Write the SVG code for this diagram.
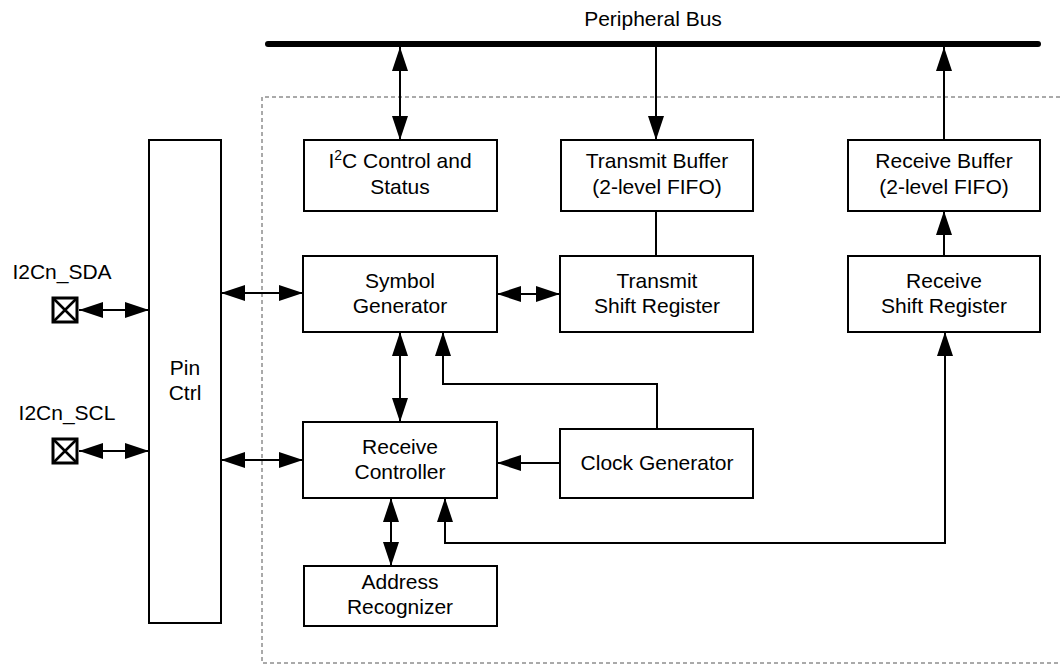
<svg xmlns="http://www.w3.org/2000/svg" width="1060" height="665" viewBox="0 0 1060 665">
<style>
.box{fill:#fff;stroke:#000;stroke-width:2}
.t{font-family:"Liberation Sans",Arial,sans-serif;font-size:21px;fill:#000;text-anchor:middle}
.c{fill:none;stroke:#000;stroke-width:2}
.pin{fill:#fff;stroke:#000;stroke-width:3}
</style>
<defs>
<marker id="ah" markerUnits="userSpaceOnUse" markerWidth="24" markerHeight="16" refX="24" refY="8" orient="auto-start-reverse" viewBox="0 0 24 16">
<path d="M0,0 L24,8 L0,16 z" fill="#000"/>
</marker>
</defs>
<rect width="1060" height="665" fill="#fff"/>
<path id="boundary" d="M1060,97 H262 V663 H1060" fill="none" stroke="#555" stroke-width="1" stroke-dasharray="4,3"/>
<g id="bus">
<line x1="268" y1="44" x2="1038" y2="44" stroke="#000" stroke-width="6" stroke-linecap="round"/>
<text class="t" x="653" y="26">Peripheral Bus</text>
</g>
<g id="connectors">
<line class="c" x1="400" y1="47" x2="400" y2="140" marker-start="url(#ah)" marker-end="url(#ah)"/>
<line class="c" x1="656" y1="46" x2="656" y2="140" marker-end="url(#ah)"/>
<line class="c" x1="944" y1="140" x2="944" y2="47" marker-end="url(#ah)"/>
<line class="c" x1="944" y1="256" x2="944" y2="211" marker-end="url(#ah)"/>
<line class="c" x1="656" y1="211" x2="656" y2="256"/>
<line class="c" x1="497" y1="294" x2="560" y2="294" marker-start="url(#ah)" marker-end="url(#ah)"/>
<line class="c" x1="221" y1="293" x2="303" y2="293" marker-start="url(#ah)" marker-end="url(#ah)"/>
<line class="c" x1="221" y1="460" x2="303" y2="460" marker-start="url(#ah)" marker-end="url(#ah)"/>
<line class="c" x1="79" y1="310" x2="149" y2="310" marker-start="url(#ah)" marker-end="url(#ah)"/>
<line class="c" x1="79" y1="451" x2="149" y2="451" marker-start="url(#ah)" marker-end="url(#ah)"/>
<line class="c" x1="400" y1="332" x2="400" y2="422" marker-start="url(#ah)" marker-end="url(#ah)"/>
<path class="c" d="M657,429 V384 H443 V332" marker-end="url(#ah)"/>
<line class="c" x1="560" y1="463" x2="497" y2="463" marker-end="url(#ah)"/>
<line class="c" x1="391" y1="498" x2="391" y2="566" marker-start="url(#ah)" marker-end="url(#ah)"/>
<path class="c" d="M445,498 V543 H945 V332" marker-start="url(#ah)" marker-end="url(#ah)"/>
</g>
<g id="i2c-control">
<rect class="box" x="304" y="140" width="193" height="71"/>
<text class="t" x="400" y="168">I<tspan font-size="14" dy="-8">2</tspan><tspan dy="8">C Control and</tspan></text>
<text class="t" x="400" y="194">Status</text>
</g>
<g id="transmit-buffer">
<rect class="box" x="561" y="140" width="192" height="71"/>
<text class="t" x="657" y="168">Transmit Buffer</text>
<text class="t" x="657" y="194">(2-level FIFO)</text>
</g>
<g id="receive-buffer">
<rect class="box" x="848" y="140" width="192" height="71"/>
<text class="t" x="944" y="168">Receive Buffer</text>
<text class="t" x="944" y="194">(2-level FIFO)</text>
</g>
<g id="symbol-generator">
<rect class="box" x="303" y="256" width="194" height="76"/>
<text class="t" x="400" y="288">Symbol</text>
<text class="t" x="400" y="313">Generator</text>
</g>
<g id="transmit-shift">
<rect class="box" x="560" y="256" width="193" height="76"/>
<text class="t" x="657" y="288">Transmit</text>
<text class="t" x="657" y="313">Shift Register</text>
</g>
<g id="receive-shift">
<rect class="box" x="848" y="256" width="192" height="76"/>
<text class="t" x="944" y="288">Receive</text>
<text class="t" x="944" y="313">Shift Register</text>
</g>
<g id="receive-controller">
<rect class="box" x="303" y="422" width="194" height="76"/>
<text class="t" x="400" y="454">Receive</text>
<text class="t" x="400" y="479">Controller</text>
</g>
<g id="clock-generator">
<rect class="box" x="560" y="429" width="193" height="69"/>
<text class="t" x="657" y="470">Clock Generator</text>
</g>
<g id="address-recognizer">
<rect class="box" x="304" y="566" width="193" height="60"/>
<text class="t" x="400" y="589">Address</text>
<text class="t" x="400" y="614">Recognizer</text>
</g>
<g id="pin-ctrl">
<rect class="box" x="149" y="140" width="72" height="483"/>
<text class="t" x="185" y="375">Pin</text>
<text class="t" x="185" y="400">Ctrl</text>
</g>
<g id="sda">
<text class="t" x="62" y="279">I2Cn_SDA</text>
<rect class="pin" x="53" y="298" width="24" height="24"/>
<path d="M53,298 L77,322 M77,298 L53,322" stroke="#000" stroke-width="2.5"/>
</g>
<g id="scl">
<text class="t" x="67" y="420">I2Cn_SCL</text>
<rect class="pin" x="53" y="439" width="24" height="24"/>
<path d="M53,439 L77,463 M77,439 L53,463" stroke="#000" stroke-width="2.5"/>
</g>
</svg>
